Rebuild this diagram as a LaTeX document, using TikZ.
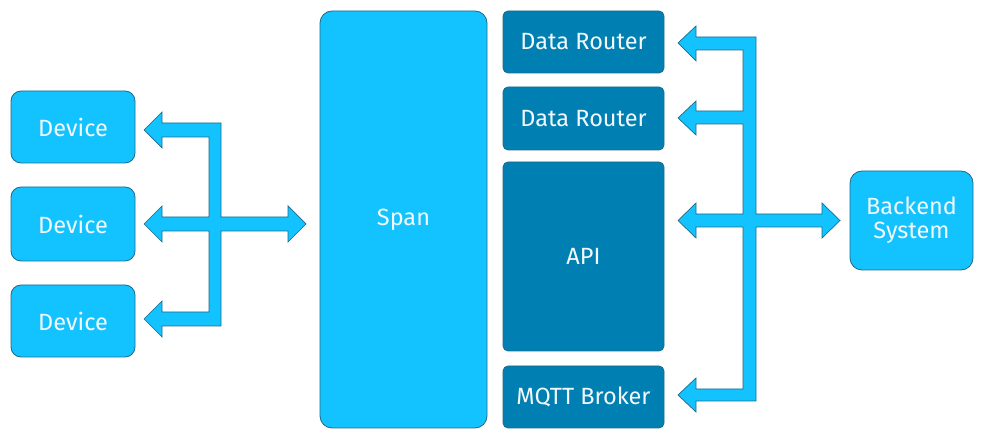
\documentclass[tikz,border=0pt]{standalone}
\usepackage{fontspec}
\setmainfont{Fira Sans}
\definecolor{lightb}{HTML}{12C3FF}
\definecolor{darkb}{HTML}{0080B2}
\definecolor{edgeb}{HTML}{1E6A88}
\definecolor{txt}{HTML}{F2F8FC}
\begin{document}
\begin{tikzpicture}[x=1pt,y=-1pt,
  box/.style={draw=edgeb,line width=0.8pt,inner sep=0pt,text=txt,align=center,
    font=\fontsize{23.5}{25}\selectfont},
  lightbox/.style={box,fill=lightb,rounded corners=10pt},
  darkbox/.style={box,fill=darkb,rounded corners=5pt,minimum width=161pt},
  fatarrow/.style={fill=lightb,draw=edgeb,line width=0.7pt,line join=miter}]
\useasboundingbox (0,0) rectangle (983,443);
% left column
\node[lightbox,minimum width=124pt,minimum height=72pt] (d1) at (73,127) {Device};
\node[lightbox,minimum width=124pt,minimum height=74pt] (d2) at (73,224) {Device};
\node[lightbox,minimum width=124pt,minimum height=72pt] (d3) at (73,321) {Device};
% span
\node[lightbox,rounded corners=12pt,minimum width=167pt,minimum height=417pt] (span) at (403.5,219.5) {Span};
% dark column
\node[darkbox,minimum height=62pt] (r1) at (583.5,42) {Data Router};
\node[darkbox,minimum height=63pt] (r2) at (583.5,118.5) {Data Router};
\node[darkbox,minimum height=189pt] (api) at (583.5,256.5) {API};
\node[darkbox,minimum height=62pt] (mq) at (583.5,397) {MQTT Broker};
% backend
\node[lightbox,rounded corners=12pt,minimum width=123pt,minimum height=99pt] (be) at (911.5,220.5) {Backend\\[-1pt]System};
% left fat arrows
\draw[fatarrow] (144,130) -- (162,112) -- (162,123) -- (221,123) -- (221,217)
  -- (288,217) -- (288,206) -- (306,224) -- (288,242) -- (288,231) -- (221,231)
  -- (221,326) -- (162,326) -- (162,337) -- (144,319) -- (162,301) -- (162,312)
  -- (209,312) -- (209,231) -- (162,231) -- (162,242) -- (144,224) -- (162,206)
  -- (162,217) -- (209,217) -- (209,137) -- (162,137) -- (162,148) -- cycle;
% right fat arrows
\draw[fatarrow] (678,43) -- (696,26) -- (696,37) -- (756,37) -- (756,214)
  -- (822,214) -- (822,203) -- (840,220.5) -- (822,238) -- (822,227) -- (756,227)
  -- (756,401) -- (696,401) -- (696,412) -- (678,395) -- (696,378) -- (696,389)
  -- (743,389) -- (743,227) -- (696,227) -- (696,238) -- (678,220.5) -- (696,203)
  -- (696,214) -- (743,214) -- (743,124) -- (696,124) -- (696,135) -- (678,118)
  -- (696,101) -- (696,111) -- (743,111) -- (743,50) -- (696,50) -- (696,61) -- cycle;
\end{tikzpicture}
\end{document}
